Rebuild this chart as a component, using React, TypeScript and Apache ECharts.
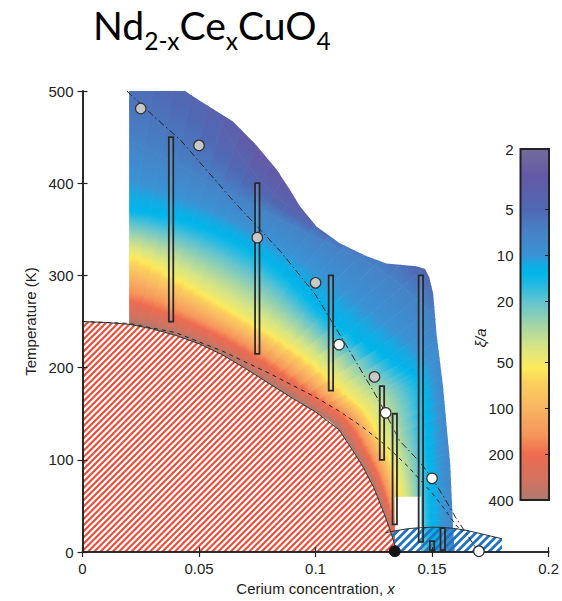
import React, { useEffect, useRef } from 'react';
import * as echarts from 'echarts';

// ---------- axis ticks / labels ----------
const colorbarTicks = [2, 5, 10, 20, 50, 100, 200, 400];

// ---------- title ----------
const titleTexts = ['Nd', '2-x', 'Ce', 'x', 'CuO', '4'];
const titleSub = [false, true, false, true, false, true];

// ---------- colormap of xi/a ----------
const cmapValues = [2, 3, 5, 7, 10, 11.5, 13, 16, 20, 30, 40, 55, 70, 100, 150, 200, 300, 400];
const cmapColors = ['#736c9c', '#6459a6', '#5069b4', '#4682c6', '#3a93d4', '#12abe4', '#00b5ea', '#2bbbe0', '#62c3cf', '#acd7a2', '#d8e584', '#fde95a', '#fbcd5d', '#f8b462', '#f6955a', '#ee6b50', '#d17260', '#ad7a6e'];

// ---------- antiferromagnetic boundary (hatched red dome) ----------
const afX = [0, 0.01, 0.02, 0.03, 0.04, 0.05, 0.06, 0.07, 0.08, 0.09, 0.1, 0.11, 0.115, 0.12, 0.125, 0.13, 0.1325, 0.135];
const afT = [250, 249, 247, 242, 235, 226, 214, 199, 183, 167, 152, 133, 114, 94, 70, 38, 20, 0];

// ---------- superconducting dome (hatched blue) ----------
const scX = [0.13, 0.13, 0.135, 0.14, 0.145, 0.15, 0.155, 0.16, 0.165, 0.17, 0.175, 0.18, 0.18];
const scT = [0, 21, 23.5, 25.5, 26.5, 27, 26.8, 25.5, 23.5, 20.5, 17.5, 14.5, 0];

// ---------- outline of the coloured xi/a region (top, right, cut-out) ----------
const fieldEdgeX = [0.02, 0.044, 0.05, 0.0646, 0.0747, 0.0833, 0.089, 0.0933, 0.1004, 0.1104, 0.1218, 0.1304, 0.1433, 0.147, 0.1488, 0.1505, 0.152, 0.1547, 0.1565, 0.1578, 0.159, 0.1597, 0.1452, 0.1452, 0.1341, 0.1341];
const fieldEdgeT = [500, 500, 490, 467, 441, 415, 393, 375, 353, 335, 321, 313, 310, 307, 298, 280, 235, 180, 130, 95, 27, 0, 0, 60, 60, 7];

// ---------- iso-xi contours of the coloured region (11 stations each) ----------
const contourLevels = [400, 50, 13, 7, 4, 3, 2];
const c400X = [0, 0.02, 0.04, 0.06, 0.08, 0.1, 0.11, 0.12, 0.125, 0.13, 0.135];
const c400T = [250, 247, 235, 214, 183, 152, 133, 94, 70, 38, 0];
const c50X = [0, 0.025, 0.049, 0.071, 0.094, 0.114, 0.123, 0.132, 0.1355, 0.1377, 0.139];
const c50T = [334, 320, 286, 253, 216, 172, 149, 104, 75, 39, 0];
const c13X = [0, 0.0287, 0.0587, 0.0853, 0.1083, 0.1356, 0.1457, 0.148, 0.149, 0.1495, 0.15];
const c13T = [376, 368, 345, 304, 247, 203, 177, 116, 82, 42, 0];
const c7X = [0, 0.0335, 0.0656, 0.0969, 0.1313, 0.1565, 0.158, 0.1598, 0.1602, 0.1615, 0.1612];
const c7T = [471, 430, 386, 345, 300, 236, 193, 126, 88, 46, 0];
const c4X = [0, 0.0417, 0.0711, 0.1003, 0.1438, 0.1669, 0.1697, 0.1723, 0.1723, 0.1736, 0.173];
const c4T = [599, 535, 418, 358, 329, 250, 207, 136, 95, 49, 0];
const c3X = [0, 0.0483, 0.0745, 0.1082, 0.1612, 0.1911, 0.1965, 0.2003, 0.2009, 0.2023, 0.2015];
const c3T = [695, 619, 438, 386, 369, 286, 239, 158, 111, 58, 0];
const c2X = [0, 0.07, 0.095, 0.14, 0.21, 0.25, 0.25, 0.25, 0.25, 0.25, 0.25];
const c2T = [800, 750, 560, 500, 480, 380, 310, 200, 140, 70, 0];

// ---------- vertical bars ----------
const barX = [0.038, 0.075, 0.1066, 0.1285, 0.134, 0.1452, 0.150, 0.1546];
const barLow = [250, 215, 175, 100, 30, 11, 2, 2];
const barHigh = [450, 400, 300, 180, 150, 300, 12, 26];

// ---------- markers ----------
const grayX = [0.025, 0.05, 0.075, 0.1, 0.1253];
const grayT = [481, 441, 341, 292, 190];
const whiteX = [0.1101, 0.1301, 0.15, 0.1701];
const whiteT = [225, 151, 80, 1];
const blackX = [0.134];
const blackT = [1];

// ---------- guide lines ----------
const dashDotX = [0.019, 0.03, 0.042, 0.065, 0.085, 0.1, 0.113, 0.1275, 0.136, 0.145, 0.15, 0.155, 0.16, 0.17];
const dashDotT = [500, 474, 447, 380, 326, 279, 225, 163, 121, 97, 80, 60, 38, 0];
const shortDashX = [0, 0.02, 0.04, 0.06, 0.07, 0.08, 0.09, 0.1, 0.11, 0.12, 0.13, 0.14, 0.15, 0.155, 0.16, 0.163];
const shortDashT = [250, 248, 238, 218, 206, 194, 181, 168, 153, 136, 116, 92, 64, 48, 30, 22];

const FONT = 'Liberation Sans';
const INK = '#222';

function hexToRgb(h: string) {
  const n = parseInt(h.slice(1), 16);
  return [(n >> 16) & 255, (n >> 8) & 255, n & 255];
}
function cmap(v: number): string {
  if (v <= cmapValues[0]) return cmapColors[0];
  for (let i = 0; i < cmapValues.length - 1; i++) {
    const a = cmapValues[i], b = cmapValues[i + 1];
    if (v <= b) {
      const t = (Math.log(v) - Math.log(a)) / (Math.log(b) - Math.log(a));
      const ca = hexToRgb(cmapColors[i]), cb = hexToRgb(cmapColors[i + 1]);
      const c = ca.map((q, k) => Math.round(q + (cb[k] - q) * t));
      return `rgb(${c[0]},${c[1]},${c[2]})`;
    }
  }
  return cmapColors[cmapColors.length - 1];
}
function bandStops(l0: number, l1: number) {
  const a = Math.log(l0), b = Math.log(l1);
  const lo = Math.min(l0, l1), hi = Math.max(l0, l1);
  const inner = cmapValues
    .filter((v) => v > lo && v < hi)
    .map((v) => ({ offset: (Math.log(v) - a) / (b - a), color: cmap(v) }))
    .sort((p, q) => p.offset - q.offset);
  return [{ offset: 0, color: cmap(l0) }, ...inner, { offset: 1, color: cmap(l1) }];
}
function catmull(pts: number[][], S: number) {
  const out: number[][] = [];
  const n = pts.length;
  for (let j = 0; j < n - 1; j++) {
    const p0 = pts[Math.max(j - 1, 0)], p1 = pts[j], p2 = pts[j + 1], p3 = pts[Math.min(j + 2, n - 1)];
    for (let s = 0; s < S; s++) {
      const t = s / S, t2 = t * t, t3 = t2 * t;
      const f = (k: number) =>
        0.5 * (2 * p1[k] + (-p0[k] + p2[k]) * t + (2 * p0[k] - 5 * p1[k] + 4 * p2[k] - p3[k]) * t2 + (-p0[k] + 3 * p1[k] - 3 * p2[k] + p3[k]) * t3);
      out.push([f(0), f(1)]);
    }
  }
  out.push(pts[n - 1]);
  return out;
}

function buildOption() {
  const contours = [
    [c400X, c400T], [c50X, c50T], [c13X, c13T], [c7X, c7T], [c4X, c4T], [c3X, c3T], [c2X, c2T],
  ];

  const fieldRender = (_p: any, api: any) => {
    const cs = contours.map(([xs, ts]) => catmull(xs.map((x, j) => api.coord([x, ts[j]])), 5));
    const children: any[] = [];
    for (let i = 0; i < cs.length - 1; i++) {
      const A = cs[i], B = cs[i + 1];
      const stops = bandStops(contourLevels[i], contourLevels[i + 1]);
      for (let k = 0; k < A.length - 1; k++) {
        const p1 = A[k], p2 = A[k + 1], q1 = B[k], q2 = B[k + 1];
        const m1 = [(p1[0] + p2[0]) / 2, (p1[1] + p2[1]) / 2];
        const m2 = [(q1[0] + q2[0]) / 2, (q1[1] + q2[1]) / 2];
        const g = new echarts.graphic.LinearGradient(m1[0], m1[1], m2[0], m2[1], stops, true);
        children.push({ type: 'polygon', shape: { points: [p1, p2, q2, q1] }, style: { fill: g, stroke: g, lineWidth: 0.8 } });
      }
    }
    const outline: number[][] = fieldEdgeX.map((x, i) => api.coord([x, fieldEdgeT[i]]));
    for (let i = afX.length - 1; i >= 0; i--) {
      if (afX[i] >= 0.02 && afX[i] <= 0.13) outline.push(api.coord([afX[i], afT[i]]));
    }
    return { type: 'group', clipPath: { type: 'polygon', shape: { points: outline } }, children };
  };

  const hatchRender = (xs: number[], ts: number[], closeAtOrigin: boolean, step: number, color: string, width: number, bg: string | null) =>
    (_p: any, api: any) => {
      const pts = xs.map((x, i) => api.coord([x, ts[i]]));
      if (closeAtOrigin) pts.push(api.coord([xs[0], 0]));
      const px = pts.map((p: number[]) => p[0]), py = pts.map((p: number[]) => p[1]);
      const minX = Math.min(...px), maxX = Math.max(...px), minY = Math.min(...py), maxY = Math.max(...py);
      const children: any[] = [];
      if (bg) children.push({ type: 'polygon', shape: { points: pts }, style: { fill: bg } });
      for (let c = minX + minY - step; c <= maxX + maxY + step; c += step) {
        children.push({
          type: 'line',
          shape: { x1: c - maxY - 3, y1: maxY + 3, x2: c - minY + 3, y2: minY - 3 },
          style: { stroke: color, lineWidth: width },
        });
      }
      return { type: 'group', clipPath: { type: 'polygon', shape: { points: pts } }, children };
    };

  const barRender = (_p: any, api: any) => {
    const x = api.value(0), lo = api.value(1), hi = api.value(2);
    const top = api.coord([x, hi]), bot = api.coord([x, lo]);
    return {
      type: 'rect',
      shape: { x: top[0] - 2.2, y: top[1], width: 4.4, height: bot[1] - top[1] },
      style: { fill: 'rgba(255,255,255,0.12)', stroke: '#2a2a2a', lineWidth: 1.8 },
    };
  };

  const colorbarRender = (_p: any, api: any) => {
    const a = api.coord([0, colorbarTicks[0]]);
    const b = api.coord([1, colorbarTicks[colorbarTicks.length - 1]]);
    const y0 = a[1], y1 = b[1];
    const stops = cmapValues.map((v, i) => ({ offset: (api.coord([0, v])[1] - y0) / (y1 - y0), color: cmapColors[i] }))
      .sort((p, q) => p.offset - q.offset);
    const g = new echarts.graphic.LinearGradient(0, y0, 0, y1, stops, true);
    return {
      type: 'rect',
      shape: { x: a[0], y: Math.min(y0, y1), width: b[0] - a[0], height: Math.abs(y1 - y0) },
      style: { fill: g, stroke: '#222', lineWidth: 2 },
    };
  };

  // title as texts
  const canvas = document.createElement('canvas');
  const ctx = canvas.getContext('2d')!;
  const family = 'Lato';
  const measure = (t: string, size: number) => { ctx.font = `${size}px ${family}`; return ctx.measureText(t).width; };
  let M = 43, S = 27;
  const total = titleTexts.reduce((acc, t, i) => acc + measure(t, titleSub[i] ? S : M), 0);
  const sc = Math.min(1.15, 238 / total);
  M *= sc; S *= sc;
  let tx = 93;
  const titleEls: any[] = titleTexts.map((t, i) => {
    const size = titleSub[i] ? S : M;
    const baseline = titleSub[i] ? 49.5 : 39;
    const el = {
      type: 'text', x: tx, y: baseline - 0.37 * size,
      style: { text: t, font: `${size}px ${family}`, fill: '#000', textAlign: 'left', textVerticalAlign: 'middle' },
      z: 20,
    };
    tx += measure(t, size);
    return el;
  });

  const tickStyle = { show: true, inside: true, length: 5, lineStyle: { color: INK, width: 1.2 } };
  const lineStyle = { color: INK, width: 1.6 };
  const labelStyle = { fontSize: 15, color: INK, fontFamily: FONT };

  return {
    animation: false,
    textStyle: { fontFamily: FONT },
    grid: [
      { left: 82.5, top: 91, width: 466.5, height: 467.5 },
      { left: 520.5, top: 149, width: 28.5, height: 351 },
    ],
    xAxis: [
      {
        gridIndex: 0, type: 'value', min: 0, max: 0.2, interval: 0.05, position: 'bottom', z: 10,
        axisLine: { lineStyle }, axisTick: tickStyle, splitLine: { show: false },
        axisLabel: { ...labelStyle, margin: 9 },
        name: '{n|Cerium concentration, }{i|x}', nameLocation: 'middle', nameGap: 23,
        nameTextStyle: {
          ...labelStyle,
          rich: { n: { fontSize: 15, color: INK, fontFamily: FONT }, i: { fontSize: 15, color: INK, fontFamily: FONT, fontStyle: 'italic' } },
        },
      },
      {
        gridIndex: 0, type: 'value', min: 0, max: 0.2, interval: 0.05, position: 'top', z: 10,
        axisLine: { lineStyle }, axisTick: tickStyle, splitLine: { show: false }, axisLabel: { show: false },
      },
      { gridIndex: 1, type: 'value', min: 0, max: 1, show: false },
    ],
    yAxis: [
      {
        gridIndex: 0, type: 'value', min: 0, max: 500, interval: 100, position: 'left', z: 10,
        axisLine: { lineStyle }, axisTick: tickStyle, splitLine: { show: false },
        axisLabel: { ...labelStyle, margin: 9 },
        name: 'Temperature (K)', nameLocation: 'middle', nameGap: 41, nameRotate: 90,
        nameTextStyle: { ...labelStyle },
      },
      {
        gridIndex: 0, type: 'value', min: 0, max: 500, interval: 100, position: 'right', z: 10,
        axisLine: { lineStyle }, axisTick: tickStyle, splitLine: { show: false }, axisLabel: { show: false },
      },
      {
        gridIndex: 1, type: 'log', min: 2, max: 400, inverse: true, position: 'left', z: 13,
        axisLine: { show: false }, axisTick: { show: false }, splitLine: { show: false },
        axisLabel: { ...labelStyle, margin: 7, customValues: colorbarTicks },
      },
      {
        gridIndex: 1, type: 'log', min: 2, max: 400, inverse: true, position: 'right', z: 13,
        axisLine: { show: false }, splitLine: { show: false }, axisLabel: { show: false },
        axisTick: { show: true, inside: true, length: 4, lineStyle: { color: INK, width: 1 }, customValues: colorbarTicks },
      },
    ],
    graphic: [
      ...titleEls,
      {
        type: 'text', x: 480, y: 338, rotation: Math.PI / 2, z: 20,
        style: { text: 'ξ/a', font: `italic 15px ${FONT}`, fill: INK, textAlign: 'center', textVerticalAlign: 'middle' },
      },
    ],
    series: [
      { type: 'custom', name: 'field', xAxisIndex: 0, yAxisIndex: 0, z: 1, silent: true, data: [[0.1, 250]], renderItem: fieldRender },
      { type: 'custom', name: 'sc', xAxisIndex: 0, yAxisIndex: 0, z: 2, silent: true, data: [[0.15, 10]], renderItem: hatchRender(scX, scT, false, 8, '#1c74c2', 2.8, null) },
      { type: 'custom', name: 'af', xAxisIndex: 0, yAxisIndex: 0, z: 3, silent: true, data: [[0.05, 100]], renderItem: hatchRender(afX, afT, true, 6.2, '#ee4a35', 2.1, '#ffffff') },
      {
        type: 'line', name: 'afLine', z: 4, symbol: 'none', silent: true,
        data: afX.map((x, i) => [x, afT[i]]), lineStyle: { color: '#333', width: 1 },
      },
      {
        type: 'line', name: 'scArc', z: 4, symbol: 'none', silent: true,
        data: scX.slice(1, -1).map((x, i) => [x, scT[i + 1]]), lineStyle: { color: '#333', width: 1 },
      },
      {
        type: 'line', name: 'dashDot', z: 5, symbol: 'none', silent: true,
        data: dashDotX.map((x, i) => [x, dashDotT[i]]), lineStyle: { color: '#222', width: 1, type: [7, 3, 1.5, 3] },
      },
      {
        type: 'line', name: 'shortDash', z: 5, symbol: 'none', silent: true,
        data: shortDashX.map((x, i) => [x, shortDashT[i]]), lineStyle: { color: '#222', width: 1, type: [4, 4] },
      },
      {
        type: 'custom', name: 'bars', z: 6, silent: true,
        data: barX.map((x, i) => [x, barLow[i], barHigh[i]]), encode: { x: 0, y: [1, 2] }, renderItem: barRender,
      },
      {
        type: 'scatter', name: 'gray', z: 11, symbolSize: 10.5, silent: true,
        data: grayX.map((x, i) => [x, grayT[i]]), itemStyle: { color: '#c8c8c8', borderColor: '#333', borderWidth: 1.2, opacity: 1 },
      },
      {
        type: 'scatter', name: 'white', z: 11, symbolSize: 10.5, silent: true, clip: false,
        data: whiteX.map((x, i) => [x, whiteT[i]]), itemStyle: { color: '#ffffff', borderColor: '#333', borderWidth: 1.2, opacity: 1 },
      },
      {
        type: 'scatter', name: 'black', z: 11, symbolSize: 11, silent: true, clip: false,
        data: blackX.map((x, i) => [x, blackT[i]]), itemStyle: { color: '#151515', borderColor: '#151515', borderWidth: 1, opacity: 1 },
      },
      {
        type: 'custom', name: 'colorbar', xAxisIndex: 2, yAxisIndex: 2, z: 12, silent: true,
        data: [[0.5, 20]], renderItem: colorbarRender,
      },
    ],
  };
}

export default function App() {
  const ref = useRef<HTMLDivElement>(null);
  useEffect(() => {
    document.body.style.margin = '0';
    const chart = echarts.init(ref.current!, null, { renderer: 'svg' });
    chart.setOption(buildOption() as any);
    return () => chart.dispose();
  }, []);
  return <div ref={ref} style={{ position: 'fixed', left: 0, top: 0, width: 562, height: 601, background: '#fff' }} />;
}
